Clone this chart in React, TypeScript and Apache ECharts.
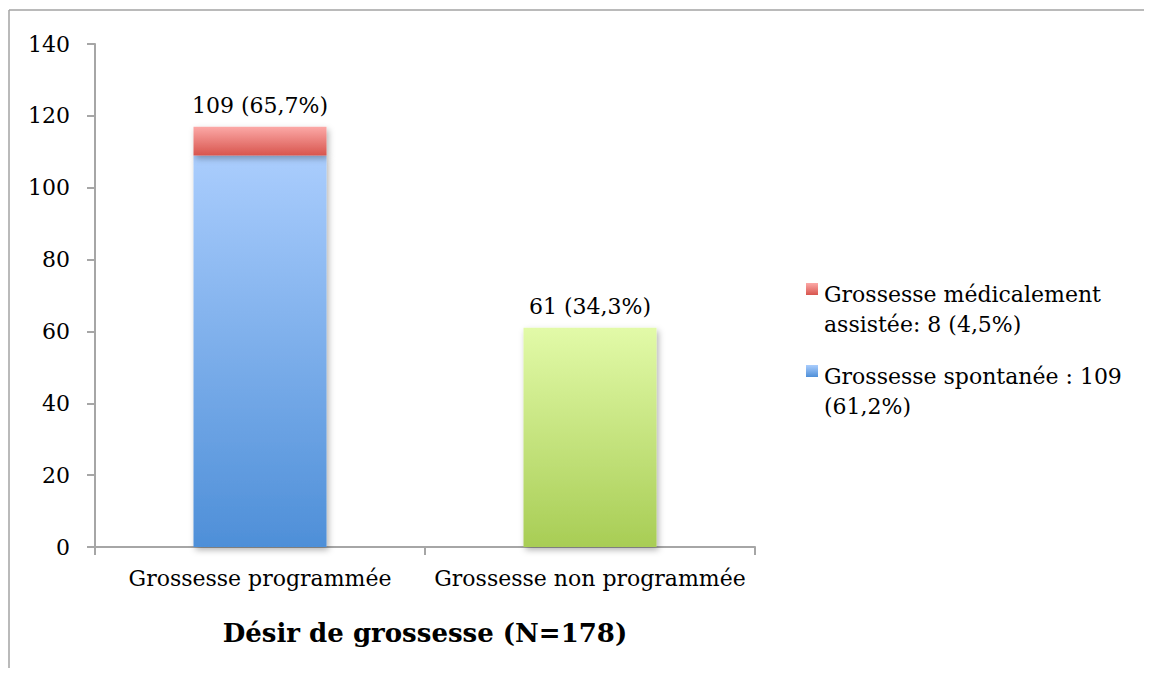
import React, { useEffect, useRef } from "react";
import * as echarts from "echarts";

const categories = ["Grossesse programmée", "Grossesse non programmée"];
const spontaneous = [109, null];
const assisted = [8, null];
const unplanned = [null, 61];
const topLabels = ["109 (65,7%)", "61 (34,3%)"];
const seriesNames = [
  "Grossesse spontanée : 109 (61,2%)",
  "Grossesse médicalement assistée: 8 (4,5%)",
  "Grossesse non programmée : 61 (34,3%)",
];
const legendLines = [
  ["Grossesse médicalement", "assistée: 8 (4,5%)"],
  ["Grossesse spontanée : 109", "(61,2%)"],
];
const yTicks = [0, 20, 40, 60, 80, 100, 120, 140];
const axisTitle = "Désir de grossesse (N=178)";

const FONT = "'DejaVu Serif', serif";

const grad = (top: string, bottom: string) =>
  new echarts.graphic.LinearGradient(0, 0, 0, 1, [
    { offset: 0, color: top },
    { offset: 1, color: bottom },
  ]);

const blueGrad = () => grad("#AACDFD", "#4E8FD8");
const redGrad = () => grad("#FCA9A7", "#D8554E");
const greenGrad = () => grad("#E2FAA8", "#A8CD55");

export default function App() {
  const ref = useRef<HTMLDivElement>(null);
  useEffect(() => {
    if (!ref.current) return;
    const chart = echarts.init(ref.current, null, { renderer: "svg" });
    const shadow = {
      shadowBlur: 6,
      shadowColor: "rgba(0,0,0,0.3)",
      shadowOffsetX: 2,
      shadowOffsetY: 3,
    };
    const labelStyle = {
      show: true,
      position: "top",
      distance: 10,
      fontFamily: FONT,
      fontSize: 22,
      color: "#000",
    };
    const legendItems = [
      { lines: legendLines[0], color: redGrad() },
      { lines: legendLines[1], color: blueGrad() },
    ];
    const frameStyle = { stroke: "#A3A3A3", lineWidth: 1.5 };
    const graphics: any[] = [
      { type: "line", silent: true, shape: { x1: 1, y1: 2, x2: 1144, y2: 2 }, style: frameStyle },
      { type: "line", silent: true, shape: { x1: 1, y1: 2, x2: 1, y2: 660 }, style: frameStyle },
      {
        type: "text",
        x: 417,
        y: 625,
        style: {
          text: axisTitle,
          font: `bold 26px ${FONT}`,
          fill: "#000",
          textAlign: "center",
          textVerticalAlign: "middle",
        },
      },
    ];
    legendItems.forEach((it, i) => {
      const top = 271 + i * 82;
      graphics.push({
        type: "rect",
        shape: { x: 798, y: top + 4, width: 12, height: 12 },
        style: { fill: it.color },
      });
      graphics.push({
        type: "text",
        x: 816,
        y: top,
        style: {
          text: it.lines.join("\n"),
          font: `22px ${FONT}`,
          lineHeight: 30,
          fill: "#000",
          textAlign: "left",
          textVerticalAlign: "top",
        },
      });
    });

    chart.setOption({
      animation: false,
      grid: { left: 87, top: 36, width: 660, height: 503, containLabel: false },
      xAxis: {
        type: "category",
        data: categories,
        axisLine: { lineStyle: { color: "#A6A6A6", width: 2 } },
        axisTick: { show: true, length: 8, lineStyle: { color: "#A6A6A6", width: 2 } },
        axisLabel: {
          interval: 0,
          hideOverlap: false,
          margin: 20,
          fontFamily: FONT,
          fontSize: 22,
          color: "#000",
        },
      },
      yAxis: {
        type: "value",
        min: yTicks[0],
        max: yTicks[yTicks.length - 1],
        interval: 20,
        splitLine: { show: false },
        axisLine: { show: true, lineStyle: { color: "#A6A6A6", width: 2 } },
        axisTick: { show: true, length: 8, lineStyle: { color: "#A6A6A6", width: 2 } },
        axisLabel: { margin: 25, fontFamily: FONT, fontSize: 22, color: "#000" },
      },
      graphic: graphics,
      series: [
        {
          name: seriesNames[0],
          type: "bar",
          stack: "total",
          barWidth: 133,
          data: spontaneous,
          itemStyle: { color: blueGrad(), ...shadow },
        },
        {
          name: seriesNames[1],
          type: "bar",
          stack: "total",
          barWidth: 133,
          data: assisted,
          itemStyle: { color: redGrad(), ...shadow },
          label: { ...labelStyle, formatter: (p: any) => topLabels[p.dataIndex] },
        },
        {
          name: seriesNames[2],
          type: "bar",
          stack: "total",
          barWidth: 133,
          data: unplanned,
          itemStyle: { color: greenGrad(), ...shadow },
          label: { ...labelStyle, formatter: (p: any) => topLabels[p.dataIndex] },
        },
      ],
    });
    return () => chart.dispose();
  }, []);
  return <div ref={ref} style={{ width: 1144, height: 660 }} />;
}
